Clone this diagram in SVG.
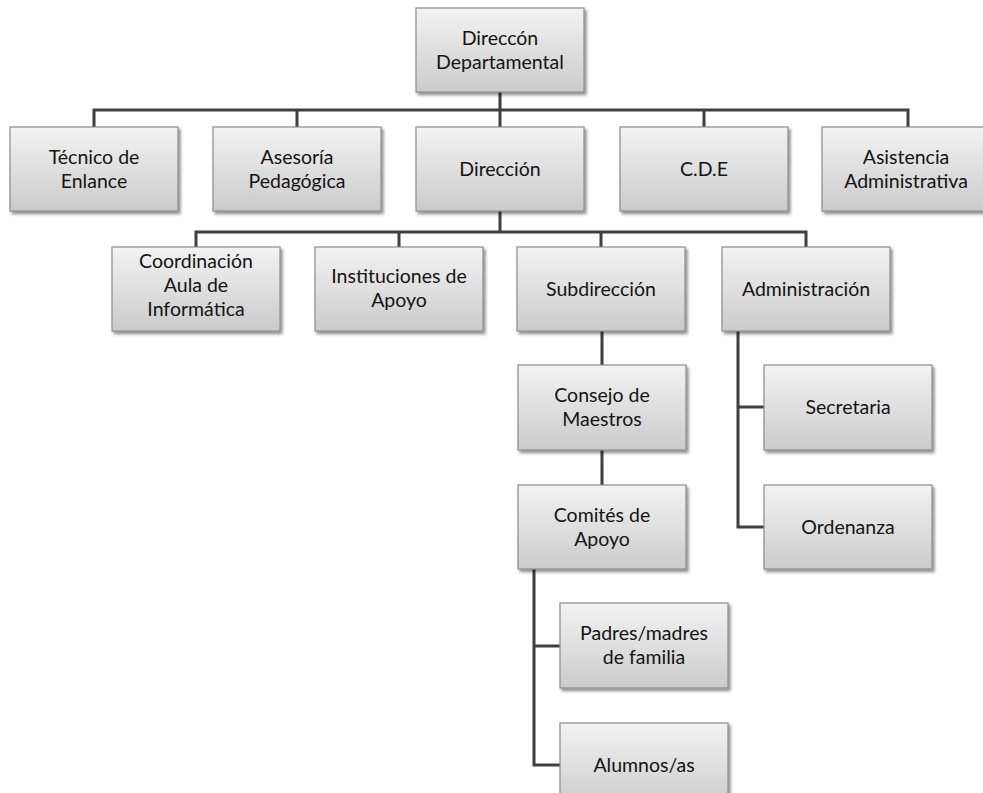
<svg xmlns="http://www.w3.org/2000/svg" width="983" height="793" viewBox="0 0 983 793">
<defs>
<linearGradient id="g" x1="0" y1="0" x2="0" y2="1">
<stop offset="0" stop-color="#f3f3f3"/>
<stop offset="1" stop-color="#cbcbcb"/>
</linearGradient>
<filter id="sh" x="-10%" y="-10%" width="130%" height="140%">
<feDropShadow dx="2" dy="2.5" stdDeviation="1.5" flood-color="#000" flood-opacity="0.45"/>
</filter>
</defs>
<style>
.box{fill:url(#g);stroke:#8c8c8c;stroke-width:1.2;filter:url(#sh)}
text{font-family:Lato,"Open Sans",sans-serif;font-size:19.5px;fill:#141414;text-anchor:middle}
.c{fill:none;stroke:#3f3f3f;stroke-width:3}
</style>
<rect width="983" height="793" fill="#fff"/>
<g id="connectors">
<path class="c" d="M500,92V110M94,127V110H908V127M297,110V127M500,110V127M704,110V127"/>
<path class="c" d="M500,211V232M196,247V232H806V247M399,232V247M601,232V247"/>
<path class="c" d="M602,331V365M602,450V485"/>
<path class="c" d="M738,331V527H764M738,407H764"/>
<path class="c" d="M534,569V765H560M534,646H560"/>
</g>
<g id="n-direccion-departamental"><rect class="box" x="416" y="8" width="168" height="84"/><text x="500" y="45">Direccón</text><text x="500" y="69">Departamental</text></g>
<g id="n-tecnico"><rect class="box" x="10" y="127" width="168" height="84"/><text x="94" y="164">Técnico de</text><text x="94" y="188">Enlance</text></g>
<g id="n-asesoria"><rect class="box" x="213" y="127" width="168" height="84"/><text x="297" y="164">Asesoría</text><text x="297" y="188">Pedagógica</text></g>
<g id="n-direccion"><rect class="box" x="416" y="127" width="168" height="84"/><text x="500" y="176">Dirección</text></g>
<g id="n-cde"><rect class="box" x="620" y="127" width="168" height="84"/><text x="704" y="176">C.D.E</text></g>
<g id="n-asistencia"><rect class="box" x="822" y="127" width="170" height="84"/><text x="906" y="164">Asistencia</text><text x="906" y="188">Administrativa</text></g>
<g id="n-coordinacion"><rect class="box" x="112" y="247" width="168" height="84"/><text x="196" y="268">Coordinación</text><text x="196" y="292">Aula de</text><text x="196" y="316">Informática</text></g>
<g id="n-instituciones"><rect class="box" x="315" y="247" width="168" height="84"/><text x="399" y="283">Instituciones de</text><text x="399" y="307">Apoyo</text></g>
<g id="n-subdireccion"><rect class="box" x="517" y="247" width="168" height="84"/><text x="601" y="296">Subdirección</text></g>
<g id="n-administracion"><rect class="box" x="722" y="247" width="168" height="84"/><text x="806" y="296">Administración</text></g>
<g id="n-consejo"><rect class="box" x="518" y="365" width="168" height="85"/><text x="602" y="402">Consejo de</text><text x="602" y="426">Maestros</text></g>
<g id="n-comites"><rect class="box" x="518" y="485" width="168" height="84"/><text x="602" y="522">Comités de</text><text x="602" y="546">Apoyo</text></g>
<g id="n-secretaria"><rect class="box" x="764" y="365" width="168" height="85"/><text x="848" y="414">Secretaria</text></g>
<g id="n-ordenanza"><rect class="box" x="764" y="485" width="168" height="84"/><text x="848" y="534">Ordenanza</text></g>
<g id="n-padres"><rect class="box" x="560" y="603" width="168" height="85"/><text x="644" y="640">Padres/madres</text><text x="644" y="664">de familia</text></g>
<g id="n-alumnos"><rect class="box" x="560" y="723" width="168" height="84"/><text x="644" y="772">Alumnos/as</text></g>
</svg>
